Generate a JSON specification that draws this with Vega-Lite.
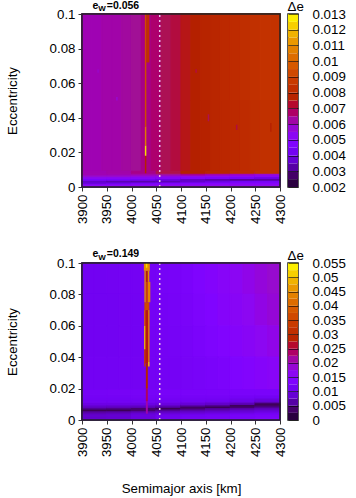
{"$schema":"https://vega.github.io/schema/vega-lite/v6.json","padding":{"left":4,"top":-2,"right":0,"bottom":0},"background":"white","spacing":22,"resolve":{"scale":{"color":"independent","stroke":"independent"}},"config":{"font":"Liberation Sans","view":{"stroke":"#222","strokeWidth":1.5}},
"datasets":{
"t":[
{"a0":3900,"a1":3920,"e0":0.05,"e1":0.1,"v":0.0061},{"a0":3920,"a1":3940,"e0":0.05,"e1":0.1,"v":0.0061},{"a0":3940,"a1":3960,"e0":0.05,"e1":0.1,"v":0.0062},{"a0":3960,"a1":3980,"e0":0.05,"e1":0.1,"v":0.0062},{"a0":3980,"a1":4000,"e0":0.05,"e1":0.1,"v":0.0063},{"a0":4000,"a1":4020,"e0":0.05,"e1":0.1,"v":0.0064},{"a0":4020,"a1":4040,"e0":0.05,"e1":0.1,"v":0.0065},{"a0":4040,"a1":4060,"e0":0.05,"e1":0.1,"v":0.0067},{"a0":4060,"a1":4080,"e0":0.05,"e1":0.1,"v":0.0069},{"a0":4080,"a1":4100,"e0":0.05,"e1":0.1,"v":0.0071},{"a0":4100,"a1":4120,"e0":0.05,"e1":0.1,"v":0.0074},{"a0":4120,"a1":4140,"e0":0.05,"e1":0.1,"v":0.0075},{"a0":4140,"a1":4160,"e0":0.05,"e1":0.1,"v":0.0077},{"a0":4160,"a1":4180,"e0":0.05,"e1":0.1,"v":0.0078},{"a0":4180,"a1":4200,"e0":0.05,"e1":0.1,"v":0.008},{"a0":4200,"a1":4220,"e0":0.05,"e1":0.1,"v":0.0081},{"a0":4220,"a1":4240,"e0":0.05,"e1":0.1,"v":0.0082},{"a0":4240,"a1":4260,"e0":0.05,"e1":0.1,"v":0.0083},{"a0":4260,"a1":4280,"e0":0.05,"e1":0.1,"v":0.0084},{"a0":4280,"a1":4300,"e0":0.05,"e1":0.1,"v":0.0084},
{"a0":3900,"a1":3920,"e0":0.009,"e1":0.05,"v":0.0061},{"a0":3920,"a1":3940,"e0":0.009,"e1":0.05,"v":0.0061},{"a0":3940,"a1":3960,"e0":0.009,"e1":0.05,"v":0.0062},{"a0":3960,"a1":3980,"e0":0.009,"e1":0.05,"v":0.0062},{"a0":3980,"a1":4000,"e0":0.009,"e1":0.05,"v":0.0063},{"a0":4000,"a1":4020,"e0":0.009,"e1":0.05,"v":0.0064},{"a0":4020,"a1":4040,"e0":0.009,"e1":0.05,"v":0.0065},{"a0":4040,"a1":4060,"e0":0.009,"e1":0.05,"v":0.0067},{"a0":4060,"a1":4080,"e0":0.009,"e1":0.05,"v":0.0069},{"a0":4080,"a1":4100,"e0":0.009,"e1":0.05,"v":0.0071},{"a0":4100,"a1":4120,"e0":0.009,"e1":0.05,"v":0.0074},{"a0":4120,"a1":4140,"e0":0.009,"e1":0.05,"v":0.0075},{"a0":4140,"a1":4160,"e0":0.009,"e1":0.05,"v":0.0076},{"a0":4160,"a1":4180,"e0":0.009,"e1":0.05,"v":0.0078},{"a0":4180,"a1":4200,"e0":0.009,"e1":0.05,"v":0.0079},{"a0":4200,"a1":4220,"e0":0.009,"e1":0.05,"v":0.008},{"a0":4220,"a1":4240,"e0":0.009,"e1":0.05,"v":0.0081},{"a0":4240,"a1":4260,"e0":0.009,"e1":0.05,"v":0.0082},{"a0":4260,"a1":4280,"e0":0.009,"e1":0.05,"v":0.0083},{"a0":4280,"a1":4300,"e0":0.009,"e1":0.05,"v":0.0083},
{"a0":3900,"a1":3950,"e0":0,"e1":0.001,"v":0.0054},{"a0":3900,"a1":3950,"e0":0.001,"e1":0.002,"v":0.005},{"a0":3900,"a1":3950,"e0":0.002,"e1":0.003,"v":0.0039},{"a0":3900,"a1":3950,"e0":0.003,"e1":0.004,"v":0.0036},{"a0":3900,"a1":3950,"e0":0.004,"e1":0.005,"v":0.0046},{"a0":3900,"a1":3950,"e0":0.005,"e1":0.006,"v":0.0052},{"a0":3900,"a1":3950,"e0":0.006,"e1":0.007,"v":0.0058},{"a0":3900,"a1":3950,"e0":0.007,"e1":0.008,"v":0.0061},{"a0":3900,"a1":3950,"e0":0.008,"e1":0.009,"v":0.0061},
{"a0":3950,"a1":4000,"e0":0,"e1":0.001,"v":0.0054},{"a0":3950,"a1":4000,"e0":0.001,"e1":0.002,"v":0.005},{"a0":3950,"a1":4000,"e0":0.002,"e1":0.003,"v":0.0041},{"a0":3950,"a1":4000,"e0":0.003,"e1":0.004,"v":0.0034},{"a0":3950,"a1":4000,"e0":0.004,"e1":0.005,"v":0.0045},{"a0":3950,"a1":4000,"e0":0.005,"e1":0.006,"v":0.0051},{"a0":3950,"a1":4000,"e0":0.006,"e1":0.007,"v":0.0058},{"a0":3950,"a1":4000,"e0":0.007,"e1":0.008,"v":0.0061},{"a0":3950,"a1":4000,"e0":0.008,"e1":0.009,"v":0.0062},
{"a0":4000,"a1":4050,"e0":0,"e1":0.001,"v":0.0055},{"a0":4000,"a1":4050,"e0":0.001,"e1":0.002,"v":0.0051},{"a0":4000,"a1":4050,"e0":0.002,"e1":0.003,"v":0.0044},{"a0":4000,"a1":4050,"e0":0.003,"e1":0.004,"v":0.0033},{"a0":4000,"a1":4050,"e0":0.004,"e1":0.005,"v":0.0043},{"a0":4000,"a1":4050,"e0":0.005,"e1":0.006,"v":0.005},{"a0":4000,"a1":4050,"e0":0.006,"e1":0.007,"v":0.0056},{"a0":4000,"a1":4050,"e0":0.007,"e1":0.008,"v":0.0062},{"a0":4000,"a1":4050,"e0":0.008,"e1":0.009,"v":0.0065},
{"a0":4050,"a1":4100,"e0":0,"e1":0.001,"v":0.0055},{"a0":4050,"a1":4100,"e0":0.001,"e1":0.002,"v":0.0052},{"a0":4050,"a1":4100,"e0":0.002,"e1":0.003,"v":0.0046},{"a0":4050,"a1":4100,"e0":0.003,"e1":0.004,"v":0.0034},{"a0":4050,"a1":4100,"e0":0.004,"e1":0.005,"v":0.004},{"a0":4050,"a1":4100,"e0":0.005,"e1":0.006,"v":0.0049},{"a0":4050,"a1":4100,"e0":0.006,"e1":0.007,"v":0.0055},{"a0":4050,"a1":4100,"e0":0.007,"e1":0.008,"v":0.0064},{"a0":4050,"a1":4100,"e0":0.008,"e1":0.009,"v":0.007},
{"a0":4100,"a1":4150,"e0":0,"e1":0.001,"v":0.0056},{"a0":4100,"a1":4150,"e0":0.001,"e1":0.002,"v":0.0052},{"a0":4100,"a1":4150,"e0":0.002,"e1":0.003,"v":0.0047},{"a0":4100,"a1":4150,"e0":0.003,"e1":0.004,"v":0.0036},{"a0":4100,"a1":4150,"e0":0.004,"e1":0.005,"v":0.0036},{"a0":4100,"a1":4150,"e0":0.005,"e1":0.006,"v":0.0048},{"a0":4100,"a1":4150,"e0":0.006,"e1":0.007,"v":0.0054},{"a0":4100,"a1":4150,"e0":0.007,"e1":0.008,"v":0.0065},{"a0":4100,"a1":4150,"e0":0.008,"e1":0.009,"v":0.0075},
{"a0":4150,"a1":4200,"e0":0,"e1":0.001,"v":0.0056},{"a0":4150,"a1":4200,"e0":0.001,"e1":0.002,"v":0.0053},{"a0":4150,"a1":4200,"e0":0.002,"e1":0.003,"v":0.0048},{"a0":4150,"a1":4200,"e0":0.003,"e1":0.004,"v":0.0039},{"a0":4150,"a1":4200,"e0":0.004,"e1":0.005,"v":0.0034},{"a0":4150,"a1":4200,"e0":0.005,"e1":0.006,"v":0.0046},{"a0":4150,"a1":4200,"e0":0.006,"e1":0.007,"v":0.0053},{"a0":4150,"a1":4200,"e0":0.007,"e1":0.008,"v":0.0062},{"a0":4150,"a1":4200,"e0":0.008,"e1":0.009,"v":0.0078},
{"a0":4200,"a1":4250,"e0":0,"e1":0.001,"v":0.0056},{"a0":4200,"a1":4250,"e0":0.001,"e1":0.002,"v":0.0053},{"a0":4200,"a1":4250,"e0":0.002,"e1":0.003,"v":0.0049},{"a0":4200,"a1":4250,"e0":0.003,"e1":0.004,"v":0.0042},{"a0":4200,"a1":4250,"e0":0.004,"e1":0.005,"v":0.0032},{"a0":4200,"a1":4250,"e0":0.005,"e1":0.006,"v":0.0044},{"a0":4200,"a1":4250,"e0":0.006,"e1":0.007,"v":0.0052},{"a0":4200,"a1":4250,"e0":0.007,"e1":0.008,"v":0.006},{"a0":4200,"a1":4250,"e0":0.008,"e1":0.009,"v":0.0081},
{"a0":4250,"a1":4300,"e0":0,"e1":0.001,"v":0.0056},{"a0":4250,"a1":4300,"e0":0.001,"e1":0.002,"v":0.0053},{"a0":4250,"a1":4300,"e0":0.002,"e1":0.003,"v":0.0049},{"a0":4250,"a1":4300,"e0":0.003,"e1":0.004,"v":0.0043},{"a0":4250,"a1":4300,"e0":0.004,"e1":0.005,"v":0.0033},{"a0":4250,"a1":4300,"e0":0.005,"e1":0.006,"v":0.004},{"a0":4250,"a1":4300,"e0":0.006,"e1":0.007,"v":0.0051},{"a0":4250,"a1":4300,"e0":0.007,"e1":0.008,"v":0.0058},{"a0":4250,"a1":4300,"e0":0.008,"e1":0.009,"v":0.0083}],
"ts":[
{"a0":4027,"a1":4030,"e0":0.008,"e1":0.018,"v":0.0076},{"a0":4027,"a1":4030,"e0":0.018,"e1":0.024,"v":0.0125},{"a0":4027,"a1":4030,"e0":0.024,"e1":0.035,"v":0.0105},{"a0":4027,"a1":4030,"e0":0.035,"e1":0.1,"v":0.0093},{"a0":4030,"a1":4036,"e0":0.072,"e1":0.1,"v":0.0083},
{"a0":3969,"a1":3972,"e0":0.05,"e1":0.052,"v":0.0058},{"a0":3931,"a1":3934,"e0":0.066,"e1":0.068,"v":0.0059},{"a0":4154,"a1":4157,"e0":0.038,"e1":0.042,"v":0.0069},{"a0":4211,"a1":4214,"e0":0.033,"e1":0.036,"v":0.0071},{"a0":4280,"a1":4283,"e0":0.032,"e1":0.037,"v":0.0076},{"a0":4129,"a1":4132,"e0":0.066,"e1":0.068,"v":0.0071}],
"b":[
{"a0":3900,"a1":3950,"e0":0,"e1":0.002,"v":0.0083},{"a0":3900,"a1":3950,"e0":0.002,"e1":0.004,"v":0.0082},{"a0":3900,"a1":3950,"e0":0.004,"e1":0.005,"v":0.0072},{"a0":3900,"a1":3950,"e0":0.005,"e1":0.006,"v":0.006},{"a0":3900,"a1":3950,"e0":0.006,"e1":0.007,"v":0.003},{"a0":3900,"a1":3950,"e0":0.007,"e1":0.008,"v":0.0055},{"a0":3900,"a1":3950,"e0":0.008,"e1":0.009,"v":0.0075},{"a0":3900,"a1":3950,"e0":0.009,"e1":0.01,"v":0.009},{"a0":3900,"a1":3950,"e0":0.01,"e1":0.011,"v":0.01},{"a0":3900,"a1":3950,"e0":0.011,"e1":0.012,"v":0.0108},{"a0":3900,"a1":3950,"e0":0.012,"e1":0.014,"v":0.0112},{"a0":3900,"a1":3950,"e0":0.014,"e1":0.016,"v":0.0116},{"a0":3900,"a1":3950,"e0":0.016,"e1":0.02,"v":0.0118},
{"a0":3950,"a1":4000,"e0":0,"e1":0.002,"v":0.0086},{"a0":3950,"a1":4000,"e0":0.002,"e1":0.004,"v":0.0085},{"a0":3950,"a1":4000,"e0":0.004,"e1":0.005,"v":0.0075},{"a0":3950,"a1":4000,"e0":0.005,"e1":0.006,"v":0.0064},{"a0":3950,"a1":4000,"e0":0.006,"e1":0.007,"v":0.003},{"a0":3950,"a1":4000,"e0":0.007,"e1":0.008,"v":0.005},{"a0":3950,"a1":4000,"e0":0.008,"e1":0.009,"v":0.0072},{"a0":3950,"a1":4000,"e0":0.009,"e1":0.01,"v":0.0088},{"a0":3950,"a1":4000,"e0":0.01,"e1":0.011,"v":0.01},{"a0":3950,"a1":4000,"e0":0.011,"e1":0.012,"v":0.0108},{"a0":3950,"a1":4000,"e0":0.012,"e1":0.014,"v":0.0112},{"a0":3950,"a1":4000,"e0":0.014,"e1":0.016,"v":0.0116},{"a0":3950,"a1":4000,"e0":0.016,"e1":0.02,"v":0.0119},
{"a0":4000,"a1":4050,"e0":0,"e1":0.002,"v":0.0096},{"a0":4000,"a1":4050,"e0":0.002,"e1":0.004,"v":0.0095},{"a0":4000,"a1":4050,"e0":0.004,"e1":0.005,"v":0.0085},{"a0":4000,"a1":4050,"e0":0.005,"e1":0.006,"v":0.0072},{"a0":4000,"a1":4050,"e0":0.006,"e1":0.007,"v":0.004},{"a0":4000,"a1":4050,"e0":0.007,"e1":0.008,"v":0.004},{"a0":4000,"a1":4050,"e0":0.008,"e1":0.009,"v":0.0068},{"a0":4000,"a1":4050,"e0":0.009,"e1":0.01,"v":0.0085},{"a0":4000,"a1":4050,"e0":0.01,"e1":0.011,"v":0.0098},{"a0":4000,"a1":4050,"e0":0.011,"e1":0.012,"v":0.0106},{"a0":4000,"a1":4050,"e0":0.012,"e1":0.014,"v":0.0112},{"a0":4000,"a1":4050,"e0":0.014,"e1":0.016,"v":0.0117},{"a0":4000,"a1":4050,"e0":0.016,"e1":0.02,"v":0.012},
{"a0":4050,"a1":4100,"e0":0,"e1":0.002,"v":0.011},{"a0":4050,"a1":4100,"e0":0.002,"e1":0.004,"v":0.0105},{"a0":4050,"a1":4100,"e0":0.004,"e1":0.005,"v":0.009},{"a0":4050,"a1":4100,"e0":0.005,"e1":0.006,"v":0.0078},{"a0":4050,"a1":4100,"e0":0.006,"e1":0.007,"v":0.0055},{"a0":4050,"a1":4100,"e0":0.007,"e1":0.008,"v":0.003},{"a0":4050,"a1":4100,"e0":0.008,"e1":0.009,"v":0.0055},{"a0":4050,"a1":4100,"e0":0.009,"e1":0.01,"v":0.008},{"a0":4050,"a1":4100,"e0":0.01,"e1":0.011,"v":0.0095},{"a0":4050,"a1":4100,"e0":0.011,"e1":0.012,"v":0.0105},{"a0":4050,"a1":4100,"e0":0.012,"e1":0.014,"v":0.0112},{"a0":4050,"a1":4100,"e0":0.014,"e1":0.016,"v":0.0118},{"a0":4050,"a1":4100,"e0":0.016,"e1":0.02,"v":0.0122},
{"a0":4100,"a1":4150,"e0":0,"e1":0.002,"v":0.0118},{"a0":4100,"a1":4150,"e0":0.002,"e1":0.004,"v":0.011},{"a0":4100,"a1":4150,"e0":0.004,"e1":0.005,"v":0.0095},{"a0":4100,"a1":4150,"e0":0.005,"e1":0.006,"v":0.0082},{"a0":4100,"a1":4150,"e0":0.006,"e1":0.007,"v":0.0065},{"a0":4100,"a1":4150,"e0":0.007,"e1":0.008,"v":0.004},{"a0":4100,"a1":4150,"e0":0.008,"e1":0.009,"v":0.0035},{"a0":4100,"a1":4150,"e0":0.009,"e1":0.01,"v":0.0068},{"a0":4100,"a1":4150,"e0":0.01,"e1":0.011,"v":0.0088},{"a0":4100,"a1":4150,"e0":0.011,"e1":0.012,"v":0.01},{"a0":4100,"a1":4150,"e0":0.012,"e1":0.014,"v":0.0112},{"a0":4100,"a1":4150,"e0":0.014,"e1":0.016,"v":0.0118},{"a0":4100,"a1":4150,"e0":0.016,"e1":0.02,"v":0.0124},
{"a0":4150,"a1":4200,"e0":0,"e1":0.002,"v":0.0122},{"a0":4150,"a1":4200,"e0":0.002,"e1":0.004,"v":0.0115},{"a0":4150,"a1":4200,"e0":0.004,"e1":0.005,"v":0.01},{"a0":4150,"a1":4200,"e0":0.005,"e1":0.006,"v":0.0088},{"a0":4150,"a1":4200,"e0":0.006,"e1":0.007,"v":0.0072},{"a0":4150,"a1":4200,"e0":0.007,"e1":0.008,"v":0.0055},{"a0":4150,"a1":4200,"e0":0.008,"e1":0.009,"v":0.003},{"a0":4150,"a1":4200,"e0":0.009,"e1":0.01,"v":0.0055},{"a0":4150,"a1":4200,"e0":0.01,"e1":0.011,"v":0.008},{"a0":4150,"a1":4200,"e0":0.011,"e1":0.012,"v":0.0095},{"a0":4150,"a1":4200,"e0":0.012,"e1":0.014,"v":0.011},{"a0":4150,"a1":4200,"e0":0.014,"e1":0.016,"v":0.0118},{"a0":4150,"a1":4200,"e0":0.016,"e1":0.02,"v":0.0125},
{"a0":4200,"a1":4250,"e0":0,"e1":0.002,"v":0.0128},{"a0":4200,"a1":4250,"e0":0.002,"e1":0.004,"v":0.012},{"a0":4200,"a1":4250,"e0":0.004,"e1":0.005,"v":0.0105},{"a0":4200,"a1":4250,"e0":0.005,"e1":0.006,"v":0.0092},{"a0":4200,"a1":4250,"e0":0.006,"e1":0.007,"v":0.008},{"a0":4200,"a1":4250,"e0":0.007,"e1":0.008,"v":0.0062},{"a0":4200,"a1":4250,"e0":0.008,"e1":0.009,"v":0.004},{"a0":4200,"a1":4250,"e0":0.009,"e1":0.01,"v":0.0032},{"a0":4200,"a1":4250,"e0":0.01,"e1":0.011,"v":0.0068},{"a0":4200,"a1":4250,"e0":0.011,"e1":0.012,"v":0.0088},{"a0":4200,"a1":4250,"e0":0.012,"e1":0.014,"v":0.0105},{"a0":4200,"a1":4250,"e0":0.014,"e1":0.016,"v":0.0116},{"a0":4200,"a1":4250,"e0":0.016,"e1":0.02,"v":0.0126},
{"a0":4250,"a1":4300,"e0":0,"e1":0.002,"v":0.0135},{"a0":4250,"a1":4300,"e0":0.002,"e1":0.004,"v":0.0125},{"a0":4250,"a1":4300,"e0":0.004,"e1":0.005,"v":0.0112},{"a0":4250,"a1":4300,"e0":0.005,"e1":0.006,"v":0.01},{"a0":4250,"a1":4300,"e0":0.006,"e1":0.007,"v":0.0088},{"a0":4250,"a1":4300,"e0":0.007,"e1":0.008,"v":0.0072},{"a0":4250,"a1":4300,"e0":0.008,"e1":0.009,"v":0.0055},{"a0":4250,"a1":4300,"e0":0.009,"e1":0.01,"v":0.0035},{"a0":4250,"a1":4300,"e0":0.01,"e1":0.011,"v":0.0032},{"a0":4250,"a1":4300,"e0":0.011,"e1":0.012,"v":0.0068},{"a0":4250,"a1":4300,"e0":0.012,"e1":0.014,"v":0.0095},{"a0":4250,"a1":4300,"e0":0.014,"e1":0.016,"v":0.0112},{"a0":4250,"a1":4300,"e0":0.016,"e1":0.02,"v":0.0126},
{"a0":3900,"a1":3925,"e0":0.08,"e1":0.1,"v":0.011},{"a0":3925,"a1":3950,"e0":0.08,"e1":0.1,"v":0.011},{"a0":3950,"a1":3975,"e0":0.08,"e1":0.1,"v":0.0111},{"a0":3975,"a1":4000,"e0":0.08,"e1":0.1,"v":0.0112},{"a0":4000,"a1":4025,"e0":0.08,"e1":0.1,"v":0.0113},{"a0":4025,"a1":4050,"e0":0.08,"e1":0.1,"v":0.0115},{"a0":4050,"a1":4075,"e0":0.08,"e1":0.1,"v":0.0118},{"a0":4075,"a1":4100,"e0":0.08,"e1":0.1,"v":0.0122},{"a0":4100,"a1":4125,"e0":0.08,"e1":0.1,"v":0.0128},{"a0":4125,"a1":4150,"e0":0.08,"e1":0.1,"v":0.0135},{"a0":4150,"a1":4175,"e0":0.08,"e1":0.1,"v":0.0143},{"a0":4175,"a1":4200,"e0":0.08,"e1":0.1,"v":0.0152},{"a0":4200,"a1":4225,"e0":0.08,"e1":0.1,"v":0.0162},{"a0":4225,"a1":4250,"e0":0.08,"e1":0.1,"v":0.0172},{"a0":4250,"a1":4275,"e0":0.08,"e1":0.1,"v":0.0182},{"a0":4275,"a1":4300,"e0":0.08,"e1":0.1,"v":0.0192},
{"a0":3900,"a1":3925,"e0":0.06,"e1":0.08,"v":0.011},{"a0":3925,"a1":3950,"e0":0.06,"e1":0.08,"v":0.011},{"a0":3950,"a1":3975,"e0":0.06,"e1":0.08,"v":0.011},{"a0":3975,"a1":4000,"e0":0.06,"e1":0.08,"v":0.0111},{"a0":4000,"a1":4025,"e0":0.06,"e1":0.08,"v":0.0112},{"a0":4025,"a1":4050,"e0":0.06,"e1":0.08,"v":0.0114},{"a0":4050,"a1":4075,"e0":0.06,"e1":0.08,"v":0.0116},{"a0":4075,"a1":4100,"e0":0.06,"e1":0.08,"v":0.012},{"a0":4100,"a1":4125,"e0":0.06,"e1":0.08,"v":0.0125},{"a0":4125,"a1":4150,"e0":0.06,"e1":0.08,"v":0.0132},{"a0":4150,"a1":4175,"e0":0.06,"e1":0.08,"v":0.0138},{"a0":4175,"a1":4200,"e0":0.06,"e1":0.08,"v":0.0147},{"a0":4200,"a1":4225,"e0":0.06,"e1":0.08,"v":0.0156},{"a0":4225,"a1":4250,"e0":0.06,"e1":0.08,"v":0.0165},{"a0":4250,"a1":4275,"e0":0.06,"e1":0.08,"v":0.0175},{"a0":4275,"a1":4300,"e0":0.06,"e1":0.08,"v":0.0185},
{"a0":3900,"a1":3925,"e0":0.04,"e1":0.06,"v":0.011},{"a0":3925,"a1":3950,"e0":0.04,"e1":0.06,"v":0.011},{"a0":3950,"a1":3975,"e0":0.04,"e1":0.06,"v":0.011},{"a0":3975,"a1":4000,"e0":0.04,"e1":0.06,"v":0.0111},{"a0":4000,"a1":4025,"e0":0.04,"e1":0.06,"v":0.0112},{"a0":4025,"a1":4050,"e0":0.04,"e1":0.06,"v":0.0113},{"a0":4050,"a1":4075,"e0":0.04,"e1":0.06,"v":0.0115},{"a0":4075,"a1":4100,"e0":0.04,"e1":0.06,"v":0.0118},{"a0":4100,"a1":4125,"e0":0.04,"e1":0.06,"v":0.0122},{"a0":4125,"a1":4150,"e0":0.04,"e1":0.06,"v":0.0128},{"a0":4150,"a1":4175,"e0":0.04,"e1":0.06,"v":0.0133},{"a0":4175,"a1":4200,"e0":0.04,"e1":0.06,"v":0.014},{"a0":4200,"a1":4225,"e0":0.04,"e1":0.06,"v":0.0148},{"a0":4225,"a1":4250,"e0":0.04,"e1":0.06,"v":0.0156},{"a0":4250,"a1":4275,"e0":0.04,"e1":0.06,"v":0.0165},{"a0":4275,"a1":4300,"e0":0.04,"e1":0.06,"v":0.0172},
{"a0":3900,"a1":3925,"e0":0.02,"e1":0.04,"v":0.0112},{"a0":3925,"a1":3950,"e0":0.02,"e1":0.04,"v":0.0112},{"a0":3950,"a1":3975,"e0":0.02,"e1":0.04,"v":0.0112},{"a0":3975,"a1":4000,"e0":0.02,"e1":0.04,"v":0.0112},{"a0":4000,"a1":4025,"e0":0.02,"e1":0.04,"v":0.0113},{"a0":4025,"a1":4050,"e0":0.02,"e1":0.04,"v":0.0113},{"a0":4050,"a1":4075,"e0":0.02,"e1":0.04,"v":0.0114},{"a0":4075,"a1":4100,"e0":0.02,"e1":0.04,"v":0.0116},{"a0":4100,"a1":4125,"e0":0.02,"e1":0.04,"v":0.0119},{"a0":4125,"a1":4150,"e0":0.02,"e1":0.04,"v":0.0122},{"a0":4150,"a1":4175,"e0":0.02,"e1":0.04,"v":0.0126},{"a0":4175,"a1":4200,"e0":0.02,"e1":0.04,"v":0.013},{"a0":4200,"a1":4225,"e0":0.02,"e1":0.04,"v":0.0136},{"a0":4225,"a1":4250,"e0":0.02,"e1":0.04,"v":0.0142},{"a0":4250,"a1":4275,"e0":0.02,"e1":0.04,"v":0.0148},{"a0":4275,"a1":4300,"e0":0.02,"e1":0.04,"v":0.0155}],
"bs":[
{"a0":4029,"a1":4033,"e0":0.004,"e1":0.012,"v":0.021},{"a0":4029,"a1":4033,"e0":0.012,"e1":0.02,"v":0.024},{"a0":4029,"a1":4033,"e0":0.02,"e1":0.036,"v":0.028},
{"a0":4027,"a1":4034,"e0":0.036,"e1":0.07,"v":0.027},{"a0":4025.5,"a1":4028,"e0":0.034,"e1":0.045,"v":0.034},{"a0":4025.5,"a1":4028,"e0":0.045,"e1":0.06,"v":0.05},{"a0":4025.5,"a1":4028,"e0":0.06,"e1":0.07,"v":0.04},{"a0":4033.5,"a1":4036.5,"e0":0.034,"e1":0.037,"v":0.05},{"a0":4033.5,"a1":4036.5,"e0":0.037,"e1":0.07,"v":0.043},
{"a0":4026,"a1":4036,"e0":0.07,"e1":0.075,"v":0.036},{"a0":4026,"a1":4029,"e0":0.075,"e1":0.095,"v":0.045},{"a0":4029,"a1":4033,"e0":0.075,"e1":0.088,"v":0.035},{"a0":4033,"a1":4038,"e0":0.075,"e1":0.088,"v":0.044},{"a0":4029,"a1":4033,"e0":0.088,"e1":0.095,"v":0.028},{"a0":4033,"a1":4036,"e0":0.088,"e1":0.095,"v":0.045},{"a0":4025,"a1":4037,"e0":0.095,"e1":0.1,"v":0.045},{"a0":4029,"a1":4032,"e0":0.097,"e1":0.1,"v":0.052}],
"ct":[
{"l":0.002,"h":0.0025,"v":0.00225},{"l":0.0025,"h":0.003,"v":0.00275},{"l":0.003,"h":0.0035,"v":0.00325},{"l":0.0035,"h":0.004,"v":0.00375},{"l":0.004,"h":0.0045,"v":0.00425},{"l":0.0045,"h":0.005,"v":0.00475},{"l":0.005,"h":0.0055,"v":0.00525},{"l":0.0055,"h":0.006,"v":0.00575},{"l":0.006,"h":0.0065,"v":0.00625},{"l":0.0065,"h":0.007,"v":0.00675},{"l":0.007,"h":0.0075,"v":0.00725},{"l":0.0075,"h":0.008,"v":0.00775},{"l":0.008,"h":0.0085,"v":0.00825},{"l":0.0085,"h":0.009,"v":0.00875},{"l":0.009,"h":0.0095,"v":0.00925},{"l":0.0095,"h":0.01,"v":0.00975},{"l":0.01,"h":0.0105,"v":0.01025},{"l":0.0105,"h":0.011,"v":0.01075},{"l":0.011,"h":0.0115,"v":0.01125},{"l":0.0115,"h":0.012,"v":0.01175},{"l":0.012,"h":0.0125,"v":0.01225},{"l":0.0125,"h":0.013,"v":0.01275}],
"cb":[
{"l":0,"h":0.0025,"v":0.00125},{"l":0.0025,"h":0.005,"v":0.00375},{"l":0.005,"h":0.0075,"v":0.00625},{"l":0.0075,"h":0.01,"v":0.00875},{"l":0.01,"h":0.0125,"v":0.01125},{"l":0.0125,"h":0.015,"v":0.01375},{"l":0.015,"h":0.0175,"v":0.01625},{"l":0.0175,"h":0.02,"v":0.01875},{"l":0.02,"h":0.0225,"v":0.02125},{"l":0.0225,"h":0.025,"v":0.02375},{"l":0.025,"h":0.0275,"v":0.02625},{"l":0.0275,"h":0.03,"v":0.02875},{"l":0.03,"h":0.0325,"v":0.03125},{"l":0.0325,"h":0.035,"v":0.03375},{"l":0.035,"h":0.0375,"v":0.03625},{"l":0.0375,"h":0.04,"v":0.03875},{"l":0.04,"h":0.0425,"v":0.04125},{"l":0.0425,"h":0.045,"v":0.04375},{"l":0.045,"h":0.0475,"v":0.04625},{"l":0.0475,"h":0.05,"v":0.04875},{"l":0.05,"h":0.0525,"v":0.05125},{"l":0.0525,"h":0.055,"v":0.05375}]
},
"vconcat":[
{"spacing":-6,"hconcat":[
{"width":198,"height":173,
"encoding":{
"x":{"field":"a0","type":"quantitative","scale":{"domain":[3900,4300],"nice":false},"axis":{"title":null,"values":[3900,3950,4000,4050,4100,4150,4200,4250,4300],"format":"d","labelAngle":-90,"labelAlign":"right","labelBaseline":"middle","labelFontSize":13.3,"labelColor":"#000","domain":false,"grid":false,"tickSize":4,"tickColor":"#333","labelPadding":3,"labelOverlap":false}},
"y":{"field":"e0","type":"quantitative","scale":{"domain":[0,0.1],"nice":false},"axis":{"title":"Eccentricity","titleFontSize":13.3,"titleFontWeight":"normal","titleColor":"#000","values":[0,0.02,0.04,0.06,0.08,0.1],"format":".2~f","labelFontSize":13.3,"labelColor":"#000","domain":false,"grid":false,"tickSize":4,"tickColor":"#333","labelPadding":3,"titlePadding":30,"labelOverlap":false}}},
"layer":[
{"data":{"name":"t"},"mark":{"type":"rect","strokeWidth":1.2},"encoding":{"x2":{"field":"a1"},"y2":{"field":"e1"},
"color":{"field":"v","type":"quantitative","legend":null,"scale":{"domain":[0.002,0.013],"range":["#000000","#39004f","#510096","#6301ce","#7202f2","#8004ff","#8c07f2","#970bce","#a11096","#ab174f","#b42000","#bd2a00","#c63700","#ce4600","#d55700","#dd6c00","#e48300","#eb9d00","#f2ba00","#f9db00","#ffff00"]}},
"stroke":{"field":"v","type":"quantitative","legend":null,"scale":{"domain":[0.002,0.013],"range":["#000000","#39004f","#510096","#6301ce","#7202f2","#8004ff","#8c07f2","#970bce","#a11096","#ab174f","#b42000","#bd2a00","#c63700","#ce4600","#d55700","#dd6c00","#e48300","#eb9d00","#f2ba00","#f9db00","#ffff00"]}}}},
{"data":{"name":"ts"},"mark":{"type":"rect"},"encoding":{"x2":{"field":"a1"},"y2":{"field":"e1"},"color":{"field":"v","type":"quantitative","legend":null}}},
{"data":{"values":[{"a0":4057,"e0":0,"e1":0.1}]},"mark":{"type":"rule","color":"#e8c4e8","strokeWidth":1.5,"strokeDash":[2,3]},"encoding":{"y2":{"field":"e1"}}},
{"data":{"values":[{"a0":3900,"a1":4300,"e0":0,"e1":0.1}]},"mark":{"type":"rect","fill":null,"stroke":"#222","strokeWidth":1.5},"encoding":{"x2":{"field":"a1"},"y2":{"field":"e1"}}},
{"data":{"values":[{"a0":3921,"e0":0.1045,"t":"e"}]},"mark":{"type":"text","fontWeight":"bold","fontSize":10.5,"align":"left","baseline":"middle","clip":false},"encoding":{"text":{"field":"t"}}},
{"data":{"values":[{"a0":3933,"e0":0.1028,"t":"W"}]},"mark":{"type":"text","fontWeight":"bold","fontSize":8,"align":"left","baseline":"middle","clip":false},"encoding":{"text":{"field":"t"}}},
{"data":{"values":[{"a0":3950,"e0":0.1045,"t":"=0.056"}]},"mark":{"type":"text","fontWeight":"bold","fontSize":10.5,"align":"left","baseline":"middle","clip":false},"encoding":{"text":{"field":"t"}}}
]},
{"width":10,"height":173,"data":{"name":"ct"},"mark":{"type":"rect","strokeWidth":0.6},"encoding":{
"y":{"field":"l","type":"quantitative","scale":{"domain":[0.002,0.013],"nice":false},"axis":{"orient":"right","zindex":1,"title":"Δe","titleAngle":0,"titleFontSize":13.3,"titleFontWeight":"normal","titleColor":"#000","titleX":-11,"titleY":-1,"titleAlign":"left","values":[0.002,0.003,0.004,0.005,0.006,0.007,0.008,0.009,0.01,0.011,0.012,0.013],"format":".3~f","labelFontSize":13.3,"labelColor":"#000","domain":false,"grid":false,"tickSize":-10,"tickColor":"#000","tickOpacity":0.6,"labelPadding":24,"labelOverlap":false}},"y2":{"field":"h"},
"color":{"field":"v","type":"quantitative","legend":null,"scale":{"domain":[0.002,0.013],"range":["#000000","#39004f","#510096","#6301ce","#7202f2","#8004ff","#8c07f2","#970bce","#a11096","#ab174f","#b42000","#bd2a00","#c63700","#ce4600","#d55700","#dd6c00","#e48300","#eb9d00","#f2ba00","#f9db00","#ffff00"]}}}}
]},
{"spacing":-6,"hconcat":[
{"width":198,"height":157,
"encoding":{
"x":{"field":"a0","type":"quantitative","scale":{"domain":[3900,4300],"nice":false},"axis":{"title":"Semimajor axis [km]","titleFontSize":13.3,"titleFontWeight":"normal","titleColor":"#000","titlePadding":25,"values":[3900,3950,4000,4050,4100,4150,4200,4250,4300],"format":"d","labelAngle":-90,"labelAlign":"right","labelBaseline":"middle","labelFontSize":13.3,"labelColor":"#000","domain":false,"grid":false,"tickSize":4,"tickColor":"#333","labelPadding":3,"labelOverlap":false}},
"y":{"field":"e0","type":"quantitative","scale":{"domain":[0,0.1],"nice":false},"axis":{"title":"Eccentricity","titleFontSize":13.3,"titleFontWeight":"normal","titleColor":"#000","values":[0,0.02,0.04,0.06,0.08,0.1],"format":".2~f","labelFontSize":13.3,"labelColor":"#000","domain":false,"grid":false,"tickSize":4,"tickColor":"#333","labelPadding":3,"titlePadding":30,"labelOverlap":false}}},
"layer":[
{"data":{"name":"b"},"mark":{"type":"rect","strokeWidth":1.2},"encoding":{"x2":{"field":"a1"},"y2":{"field":"e1"},
"color":{"field":"v","type":"quantitative","legend":null,"scale":{"domain":[0,0.055],"range":["#000000","#39004f","#510096","#6301ce","#7202f2","#8004ff","#8c07f2","#970bce","#a11096","#ab174f","#b42000","#bd2a00","#c63700","#ce4600","#d55700","#dd6c00","#e48300","#eb9d00","#f2ba00","#f9db00","#ffff00"]}},
"stroke":{"field":"v","type":"quantitative","legend":null,"scale":{"domain":[0,0.055],"range":["#000000","#39004f","#510096","#6301ce","#7202f2","#8004ff","#8c07f2","#970bce","#a11096","#ab174f","#b42000","#bd2a00","#c63700","#ce4600","#d55700","#dd6c00","#e48300","#eb9d00","#f2ba00","#f9db00","#ffff00"]}}}},
{"data":{"name":"bs"},"mark":{"type":"rect"},"encoding":{"x2":{"field":"a1"},"y2":{"field":"e1"},"color":{"field":"v","type":"quantitative","legend":null}}},
{"data":{"values":[{"a0":4057,"e0":0,"e1":0.1}]},"mark":{"type":"rule","color":"#e8c4e8","strokeWidth":1.5,"strokeDash":[2,3]},"encoding":{"y2":{"field":"e1"}}},
{"data":{"values":[{"a0":3900,"a1":4300,"e0":0,"e1":0.1}]},"mark":{"type":"rect","fill":null,"stroke":"#222","strokeWidth":1.5},"encoding":{"x2":{"field":"a1"},"y2":{"field":"e1"}}},
{"data":{"values":[{"a0":3921,"e0":0.1057,"t":"e"}]},"mark":{"type":"text","fontWeight":"bold","fontSize":10.5,"align":"left","baseline":"middle","clip":false},"encoding":{"text":{"field":"t"}}},
{"data":{"values":[{"a0":3933,"e0":0.1035,"t":"W"}]},"mark":{"type":"text","fontWeight":"bold","fontSize":8,"align":"left","baseline":"middle","clip":false},"encoding":{"text":{"field":"t"}}},
{"data":{"values":[{"a0":3950,"e0":0.1057,"t":"=0.149"}]},"mark":{"type":"text","fontWeight":"bold","fontSize":10.5,"align":"left","baseline":"middle","clip":false},"encoding":{"text":{"field":"t"}}}
]},
{"width":10,"height":157,"data":{"name":"cb"},"mark":{"type":"rect","strokeWidth":0.6},"encoding":{
"y":{"field":"l","type":"quantitative","scale":{"domain":[0,0.055],"nice":false},"axis":{"orient":"right","zindex":1,"title":"Δe","titleAngle":0,"titleFontSize":13.3,"titleFontWeight":"normal","titleColor":"#000","titleX":-11,"titleY":-1,"titleAlign":"left","values":[0,0.005,0.01,0.015,0.02,0.025,0.03,0.035,0.04,0.045,0.05,0.055],"format":".3~f","labelFontSize":13.3,"labelColor":"#000","domain":false,"grid":false,"tickSize":-10,"tickColor":"#000","tickOpacity":0.6,"labelPadding":24,"labelOverlap":false}},"y2":{"field":"h"},
"color":{"field":"v","type":"quantitative","legend":null,"scale":{"domain":[0,0.055],"range":["#000000","#39004f","#510096","#6301ce","#7202f2","#8004ff","#8c07f2","#970bce","#a11096","#ab174f","#b42000","#bd2a00","#c63700","#ce4600","#d55700","#dd6c00","#e48300","#eb9d00","#f2ba00","#f9db00","#ffff00"]}}}}
]}
]}
